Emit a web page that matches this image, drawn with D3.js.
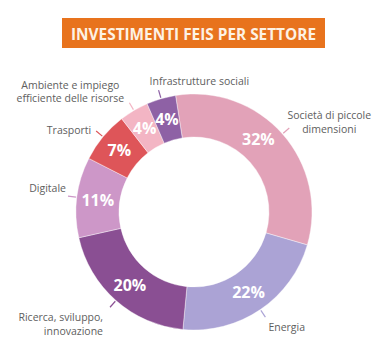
<!DOCTYPE html>
<html>
<head>
<meta charset="utf-8">
<script src="https://cdn.jsdelivr.net/npm/d3@7"></script>
<style>
  body { margin: 0; background: #fff; }
  text { font-family: "Open Sans", sans-serif; }
</style>
</head>
<body>
<div id="chart"></div>
<script>
// data
var title = "INVESTIMENTI FEIS PER SETTORE";
var sectors = ["Società di piccole dimensioni", "Energia", "Ricerca, sviluppo, innovazione",
               "Digitale", "Trasporti", "Ambiente e impiego efficiente delle risorse",
               "Infrastrutture sociali"];
var shares = [32, 22, 20, 11, 7, 4, 4];
// how the labels are broken on lines
var labelLines = [["Società di piccole", "dimensioni"], ["Energia"], ["Ricerca, sviluppo,", "innovazione"],
                  ["Digitale"], ["Trasporti"], ["Ambiente e impiego", "efficiente delle risorse"],
                  ["Infrastrutture sociali"]];
var colors = ["#e2a2b8", "#aba3d5", "#8a4f93", "#cd97c8", "#de5559", "#f3b5c4", "#8e61a5"];

// label placement relative to the end of each leader line
var place = [
  {anchor: "middle", dx: 40, dy: -9},
  {anchor: "start", dx: 3, dy: 14},
  {anchor: "end", dx: -7, dy: 14},
  {anchor: "end", dx: -2, dy: -4},
  {anchor: "end", dx: -5, dy: 3},
  {anchor: "middle", dx: -59, dy: -14},
  {anchor: "start", dx: -9, dy: -5}
];
var pctShift = [-7, 0, 0, 0, 0, 0, 0]; // degrees

var width = 386, height = 360;
var cx = 194, cy = 212, outerR = 118, innerR = 75;
var deg = Math.PI / 180;

var svg = d3.select("#chart")
  .append("svg")
    .attr("width", width)
    .attr("height", height);

// title box
svg.append("rect")
  .attr("x", 62).attr("y", 18)
  .attr("width", 263).attr("height", 30)
  .attr("fill", "#e8731d");

svg.append("text")
  .attr("x", 193.5).attr("y", 40)
  .attr("text-anchor", "middle")
  .attr("font-size", 16)
  .attr("font-weight", 700)
  .attr("textLength", 245)
  .attr("lengthAdjust", "spacingAndGlyphs")
  .attr("fill", "#fdf2e4")
  .text(title);

var pie = d3.pie()
  .sort(null)
  .value(function(d) { return d; })
  .startAngle(-9 * deg)
  .endAngle(351 * deg);

var arc = d3.arc().innerRadius(innerR).outerRadius(outerR);

var arcs = pie(shares);

var g = svg.append("g").attr("transform", "translate(" + cx + "," + cy + ")");

g.selectAll("path")
  .data(arcs)
  .enter()
  .append("path")
    .attr("d", arc)
    .attr("fill", function(d, i) { return colors[i]; })
    .attr("stroke", "#fff")
    .attr("stroke-width", 0.4);

function pt(a, r) {
  return [Math.sin(a) * r, -Math.cos(a) * r];
}

// percentages
g.selectAll("text.pct")
  .data(arcs)
  .enter()
  .append("text")
    .attr("class", "pct")
    .attr("x", function(d, i) { return pt((d.startAngle + d.endAngle) / 2 + pctShift[i] * deg, 97)[0]; })
    .attr("y", function(d, i) { return pt((d.startAngle + d.endAngle) / 2 + pctShift[i] * deg, 97)[1]; })
    .attr("dy", "0.36em")
    .attr("text-anchor", "middle")
    .attr("font-size", 16)
    .attr("font-weight", 700)
    .attr("fill", "#fff")
    .text(function(d) { return d.data + "%"; });

// leader lines
g.selectAll("line.lead")
  .data(arcs)
  .enter()
  .append("line")
    .attr("x1", function(d) { return pt((d.startAngle + d.endAngle) / 2, outerR + 1)[0]; })
    .attr("y1", function(d) { return pt((d.startAngle + d.endAngle) / 2, outerR + 1)[1]; })
    .attr("x2", function(d) { return pt((d.startAngle + d.endAngle) / 2, outerR + 9)[0]; })
    .attr("y2", function(d) { return pt((d.startAngle + d.endAngle) / 2, outerR + 9)[1]; })
    .attr("stroke", function(d, i) { return colors[i]; })
    .attr("stroke-width", 1.2);

// category labels
var labels = g.selectAll("text.lab")
  .data(arcs)
  .enter()
  .append("text")
    .attr("class", "lab")
    .attr("font-size", 10.5)
    .attr("fill", "#5e5e5e")
    .attr("text-anchor", function(d, i) { return place[i].anchor; })
    .attr("transform", function(d, i) {
      var p = pt((d.startAngle + d.endAngle) / 2, outerR + 9);
      return "translate(" + (p[0] + place[i].dx) + "," + (p[1] + place[i].dy) + ")";
    });

labels.selectAll("tspan")
  .data(function(d, i) { return labelLines[i]; })
  .enter()
  .append("tspan")
    .attr("x", 0)
    .attr("y", function(d, j) { return j * 13.5; })
    .text(function(d) { return d; });
</script>
</body>
</html>
